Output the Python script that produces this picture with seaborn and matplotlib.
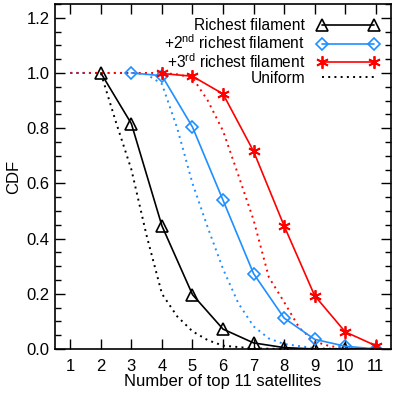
import numpy as np
import pandas as pd
import matplotlib
matplotlib.use("Agg")
import matplotlib.pyplot as plt
import seaborn as sns
from matplotlib.ticker import MultipleLocator

# -------- DATA --------
# observed CDFs (markers at integer satellite counts)
x_rich1 = [2, 3, 4, 5, 6, 7, 8, 9, 10, 11]
cdf_rich1 = [1.0, 0.816, 0.446, 0.197, 0.072, 0.022, 0.005, 0.0, 0.0, 0.0]

x_rich2 = [3, 4, 5, 6, 7, 8, 9, 10, 11]
cdf_rich2 = [1.0, 0.99, 0.804, 0.539, 0.273, 0.112, 0.035, 0.01, 0.0]

x_rich3 = [4, 5, 6, 7, 8, 9, 10, 11]
cdf_rich3 = [0.998, 0.988, 0.924, 0.716, 0.446, 0.193, 0.062, 0.012]

# uniform expectations (dotted)
x_uni1 = [1, 2, 2.5, 3, 3.5, 4, 4.5, 5, 5.5, 6, 7, 8, 9, 10, 11]
cdf_uni1 = [1.0, 1.0, 0.82, 0.65, 0.41, 0.20, 0.118, 0.064, 0.032, 0.012, 0.002, 0.0, 0.0, 0.0, 0.0]

x_uni2 = [1, 2, 3, 3.5, 4, 4.5, 5, 5.5, 6, 6.5, 7, 7.5, 8, 9, 10, 11]
cdf_uni2 = [1.0, 1.0, 1.0, 0.995, 0.96, 0.80, 0.60, 0.44, 0.29, 0.166, 0.082, 0.038, 0.018, 0.003, 0.0, 0.0]

x_uni3 = [1, 2, 3, 4, 4.5, 5, 5.5, 6, 6.5, 7, 7.5, 8, 8.5, 9, 9.5, 10, 11]
cdf_uni3 = [1.0, 1.0, 1.0, 1.0, 0.995, 0.983, 0.90, 0.79, 0.63, 0.467, 0.26, 0.17, 0.076, 0.027, 0.01, 0.003, 0.0]

xticks = list(range(1, 12))

# -------- SETTINGS --------
sns.set_style("ticks")
plt.rcParams["font.family"] = ["Liberation Sans", "DejaVu Sans"]
plt.rcParams["mathtext.fontset"] = "custom"
plt.rcParams["mathtext.rm"] = "Liberation Sans"
plt.rcParams["mathtext.it"] = "Liberation Sans"
plt.rcParams["text.color"] = "black"
plt.rcParams["axes.labelcolor"] = "black"
plt.rcParams["xtick.color"] = "black"
plt.rcParams["ytick.color"] = "black"

BLACK = "#000000"
BLUE = "#1E8FFF"
RED = "#FF0000"
dots = (0, (1, 2.2))

fig = plt.figure(figsize=(3.93, 3.93), dpi=100)
ax = fig.add_axes([0.14, 0.112, 0.855, 0.878])

# uniform curves
sns.lineplot(x=x_uni1, y=cdf_uni1, ax=ax, color=BLACK, lw=1.4, linestyle=dots,
             label="Uniform")
sns.lineplot(x=x_uni2, y=cdf_uni2, ax=ax, color=BLUE, lw=1.4, linestyle=dots)
sns.lineplot(x=x_uni3, y=cdf_uni3, ax=ax, color=RED, lw=1.4, linestyle=dots)

# observed curves
sns.lineplot(x=x_rich1, y=cdf_rich1, ax=ax, color=BLACK, lw=1.2,
             marker="^", markersize=8, markerfacecolor="none",
             markeredgecolor=BLACK, markeredgewidth=1.2,
             label="Richest filament")
sns.lineplot(x=x_rich2, y=cdf_rich2, ax=ax, color=BLUE, lw=1.2,
             marker="D", markersize=6.5, markerfacecolor="none",
             markeredgecolor=BLUE, markeredgewidth=1.2,
             label="+2$^{\\mathrm{nd}}$ richest filament")
sns.lineplot(x=x_rich3, y=cdf_rich3, ax=ax, color=RED, lw=1.2,
             marker=(6, 2, 0), markersize=9, markerfacecolor="none",
             markeredgecolor=RED, markeredgewidth=1.3,
             label="+3$^{\\mathrm{rd}}$ richest filament")

ax.set_xlim(0.5, 11.5)
ax.set_ylim(0, 1.25)
ax.set_xticks(xticks)
ax.yaxis.set_major_locator(MultipleLocator(0.2))
ax.yaxis.set_minor_locator(MultipleLocator(0.05))
ax.tick_params(axis="both", which="major", direction="in", length=7, width=1,
               top=True, right=True, labelsize=12, colors="black")
ax.tick_params(axis="y", which="minor", direction="in", length=4, width=1,
               left=True, right=True)
ax.tick_params(axis="y", which="major", labelright=False, pad=4)
ax.tick_params(axis="x", which="major", pad=7)
ax.yaxis.set_major_formatter(matplotlib.ticker.FormatStrFormatter("%.1f"))
for s in ax.spines.values():
    s.set_linewidth(1.2)
    s.set_color("black")

ax.set_xlabel("Number of top 11 satellites", fontsize=12, labelpad=0)
ax.set_ylabel("CDF", fontsize=12, labelpad=4)

handles, labels = ax.get_legend_handles_labels()
order = [labels.index(l) for l in ["Richest filament", "+2$^{\\mathrm{nd}}$ richest filament",
                                   "+3$^{\\mathrm{rd}}$ richest filament", "Uniform"]]
ax.legend([handles[i] for i in order], [labels[i] for i in order],
          loc="upper right", bbox_to_anchor=(0.99, 0.985), frameon=False,
          markerfirst=False, numpoints=2, handlelength=3.9, handletextpad=0.8,
          labelspacing=0.0, fontsize=11.2, borderaxespad=0.2)

fig.savefig("out.png", dpi=100)
